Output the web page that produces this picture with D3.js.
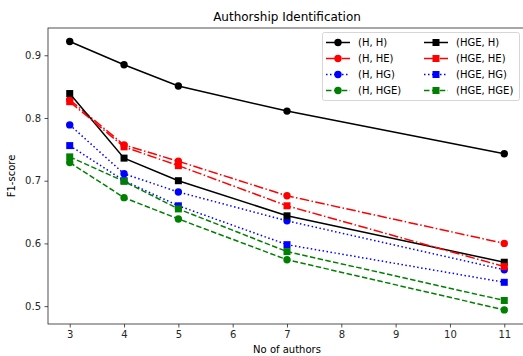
<!DOCTYPE html>
<html>
<head>
<meta charset="utf-8">
<script src="https://cdn.jsdelivr.net/npm/d3@7"></script>
<style>
  body { margin: 0; background: #fff; }
  svg { display: block; font-family: "DejaVu Sans", sans-serif; }
</style>
</head>
<body>
<div id="chart"></div>
<script>
// data
const authors = [3, 4, 5, 7, 11];
const hH      = [0.922, 0.885, 0.851, 0.811, 0.743];
const hHE     = [0.829, 0.757, 0.731, 0.676, 0.600];
const hHG     = [0.789, 0.711, 0.682, 0.636, 0.558];
const hHGE    = [0.729, 0.673, 0.639, 0.574, 0.494];
const hgeH    = [0.839, 0.736, 0.700, 0.644, 0.570];
const hgeHE   = [0.826, 0.754, 0.724, 0.660, 0.563];
const hgeHG   = [0.756, 0.700, 0.660, 0.598, 0.538];
const hgeHGE  = [0.738, 0.699, 0.655, 0.587, 0.509];
const xTicks = [3, 4, 5, 6, 7, 8, 9, 10, 11];
const yTicks = [0.5, 0.6, 0.7, 0.8, 0.9];

const series = [
  { name: '(H, H)',     values: hH,     color: 'black', dash: null,            marker: 'circle' },
  { name: '(H, HE)',    values: hHE,    color: 'red',   dash: '9.6,2.4,1.5,2.4', marker: 'circle' },
  { name: '(H, HG)',    values: hHG,    color: 'blue',  dash: '1.5,2.5',       marker: 'circle' },
  { name: '(H, HGE)',   values: hHGE,   color: 'green', dash: '5.5,2.4',       marker: 'circle' },
  { name: '(HGE, H)',   values: hgeH,   color: 'black', dash: null,            marker: 'square' },
  { name: '(HGE, HE)',  values: hgeHE,  color: 'red',   dash: '9.6,2.4,1.5,2.4', marker: 'square' },
  { name: '(HGE, HG)',  values: hgeHG,  color: 'blue',  dash: '1.5,2.5',       marker: 'square' },
  { name: '(HGE, HGE)', values: hgeHGE, color: 'green', dash: '5.5,2.4',       marker: 'square' }
];

const width = 523, height = 356;
const margin = { top: 28, right: -3, bottom: 32, left: 48 };
const innerW = width - margin.left - margin.right;
const innerH = height - margin.top - margin.bottom;

const svg = d3.select('#chart').append('svg')
  .attr('width', width)
  .attr('height', height);

const g = svg.append('g')
  .attr('transform', `translate(${margin.left},${margin.top})`);

const x = d3.scaleLinear().domain([2.6, 11.4]).range([0, innerW]);
const y = d3.scaleLinear().domain([0.4715, 0.9435]).range([innerH, 0]);

// axes
const xAxis = g.append('g')
  .attr('transform', `translate(0,${innerH})`)
  .call(d3.axisBottom(x).tickValues(xTicks).tickFormat(d3.format('d')).tickSize(3.5).tickPadding(3.5));
const yAxis = g.append('g')
  .call(d3.axisLeft(y).tickValues(yTicks).tickFormat(d3.format('.1f')).tickSize(3.5).tickPadding(3.5));

[xAxis, yAxis].forEach(a => {
  a.selectAll('text').attr('font-size', 10).attr('fill', '#262626').attr('font-family', '"DejaVu Sans", sans-serif');
  a.selectAll('line').attr('stroke', '#262626').attr('stroke-width', 0.8);
  a.select('.domain').remove();
});

// frame
g.append('rect')
  .attr('x', 0).attr('y', 0)
  .attr('width', innerW).attr('height', innerH)
  .attr('fill', 'none')
  .attr('stroke', '#262626')
  .attr('stroke-width', 0.8);

const line = d3.line()
  .x((d, i) => x(authors[i]))
  .y(d => y(d));

function drawMarker(sel, type, color, cx, cy) {
  if (type === 'circle') {
    sel.append('circle').attr('cx', cx).attr('cy', cy).attr('r', 3.7).attr('fill', color);
  } else {
    sel.append('rect').attr('x', cx - 3.5).attr('y', cy - 3.5)
      .attr('width', 7).attr('height', 7).attr('fill', color);
  }
}

series.forEach(s => {
  const sg = g.append('g');
  sg.append('path')
    .datum(s.values)
    .attr('d', line)
    .attr('fill', 'none')
    .attr('stroke', s.color)
    .attr('stroke-width', 1.5)
    .attr('stroke-dasharray', s.dash);
  s.values.forEach((v, i) => drawMarker(sg, s.marker, s.color, x(authors[i]), y(v)));
});

// title and labels, centred on the axes box
const midX = margin.left + innerW / 2;
svg.append('text')
  .attr('x', midX)
  .attr('y', 21)
  .attr('text-anchor', 'middle')
  .attr('font-size', 12)
  .attr('fill', '#000')
  .text('Authorship Identification');

svg.append('text')
  .attr('x', midX)
  .attr('y', 353)
  .attr('text-anchor', 'middle')
  .attr('font-size', 10)
  .attr('fill', '#000')
  .text('No of authors');

svg.append('text')
  .attr('transform', `translate(15,${margin.top + innerH / 2}) rotate(-90)`)
  .attr('text-anchor', 'middle')
  .attr('font-size', 10)
  .attr('fill', '#000')
  .text('F1-score');

// legend
const legend = svg.append('g');
legend.append('rect')
  .attr('x', 322.5).attr('y', 32.5)
  .attr('width', 197).attr('height', 68)
  .attr('rx', 2)
  .attr('fill', 'white')
  .attr('fill-opacity', 0.8)
  .attr('stroke', '#cccccc')
  .attr('stroke-width', 0.8);

const rowY = [42.5, 58.5, 74.5, 90.5];
series.forEach((s, i) => {
  const col = Math.floor(i / 4), row = i % 4;
  const lx = col === 0 ? 326 : 424;
  const ly = rowY[row];
  legend.append('line')
    .attr('x1', lx).attr('x2', lx + 24)
    .attr('y1', ly).attr('y2', ly)
    .attr('stroke', s.color)
    .attr('stroke-width', 1.5)
    .attr('stroke-dasharray', s.dash);
  drawMarker(legend, s.marker, s.color, lx + 12, ly);
  legend.append('text')
    .attr('x', lx + 32)
    .attr('y', ly + 3.8)
    .attr('font-size', 10)
    .attr('fill', '#000')
    .text(s.name);
});
</script>
</body>
</html>
